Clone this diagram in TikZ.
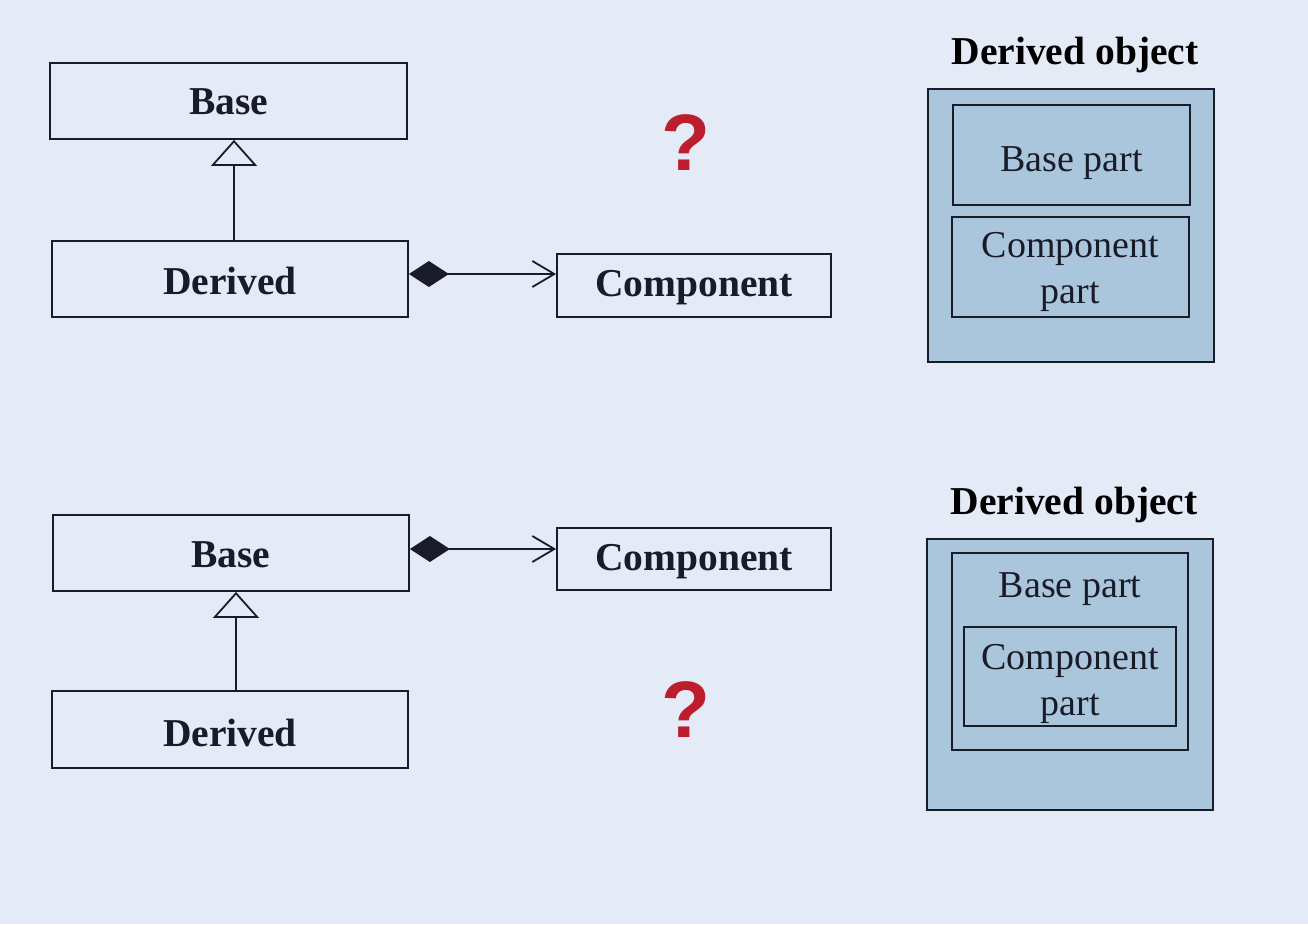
\documentclass[tikz,border=0pt]{standalone}
\usepackage{fontspec}
\setmainfont{Liberation Serif}
\newfontfamily\qfont{Liberation Sans}
\usetikzlibrary{arrows.meta}
\definecolor{bg}{RGB}{228,235,247}
\definecolor{ink}{RGB}{25,28,40}
\definecolor{partfill}{RGB}{170,198,220}
\definecolor{qred}{RGB}{188,30,45}
\tikzset{
  umlbox/.style={draw=ink, line width=1.8pt, inner sep=0pt, text depth=0pt, font=\bfseries\fontsize{39.5}{40}\selectfont, text=ink},
  partbox/.style={draw=ink, line width=1.8pt, fill=partfill, inner sep=0pt, font=\fontsize{38}{46}\selectfont, text=ink, align=center},
  title/.style={anchor=base, inner sep=0pt, font=\bfseries\fontsize{39.5}{40}\selectfont, text=black},
  qmark/.style={font=\qfont\bfseries\fontsize{80}{80}\selectfont, text=qred},
  inherit/.style={draw=ink, line width=1.8pt, -{Triangle[open, length=26pt, width=46pt, line width=1.8pt]}},
  compose/.style={draw=ink, line width=1.8pt, {Diamond[length=40pt, width=26pt]}-{Straight Barb[length=22pt, width=26pt, line width=1.8pt]}}
}
\begin{document}
\begin{tikzpicture}[x=1pt, y=-1pt]
\useasboundingbox (0,0) rectangle (1308,924);
\fill[bg] (0,0) rectangle (1308,924);

% ---------- top diagram ----------
\node[umlbox, minimum width=357pt, minimum height=76pt, text height=26pt] (base1) at (228.5,101) {Base};
\node[umlbox, minimum width=356pt, minimum height=76pt, text height=30pt] (der1) at (230,279) {Derived};
\node[umlbox, minimum width=274pt, minimum height=63pt, text height=22pt] (comp1) at (694,285.5) {Component};
\draw[inherit] ([xshift=4pt]der1.north) -- ([xshift=4pt]der1.north |- base1.south);
\coordinate (d1) at ([yshift=5pt]der1.east);
\draw[compose] (d1) -- (d1 -| comp1.west);
\node[qmark] (q1) at (686,143) {?};

\node[title] (t1) at (1075,64) {Derived object};
\node[partbox, minimum width=286pt, minimum height=273pt] (obj1) at (1071,225.5) {};
\node[partbox, minimum width=237pt, minimum height=100pt, text height=32pt, text depth=0pt] (bp1) at (1071.5,155) {Base part};
\node[partbox, minimum width=237pt, minimum height=100pt, text height=72pt, text depth=0pt] (cp1) at (1070.5,267) {Component\\part};

% ---------- bottom diagram ----------
\node[umlbox, minimum width=356pt, minimum height=76pt, text height=28pt] (base2) at (231,553) {Base};
\node[umlbox, minimum width=356pt, minimum height=77pt, text height=33pt] (der2) at (230,729.5) {Derived};
\node[umlbox, minimum width=274pt, minimum height=62pt, text height=22pt] (comp2) at (694,559) {Component};
\draw[inherit] ([xshift=6pt]der2.north) -- ([xshift=6pt]der2.north |- base2.south);
\coordinate (d2) at ([yshift=4pt]base2.east);
\draw[compose] (d2) -- (d2 -| comp2.west);
\node[qmark] (q2) at (686,710) {?};

\node[title] (t2) at (1074,514) {Derived object};
\node[partbox, minimum width=286pt, minimum height=271pt] (obj2) at (1070,674.5) {};
\node[partbox, minimum width=236pt, minimum height=197pt] (bp2) at (1070,651.5) {};
\node[anchor=base, inner sep=0pt, font=\fontsize{38}{40}\selectfont, text=ink] (bpl2) at (1070,597) {Base part};
\node[partbox, minimum width=212pt, minimum height=99pt, text height=77pt, text depth=0pt] (cp2) at (1070,676.5) {Component\\part};
\end{tikzpicture}
\end{document}
